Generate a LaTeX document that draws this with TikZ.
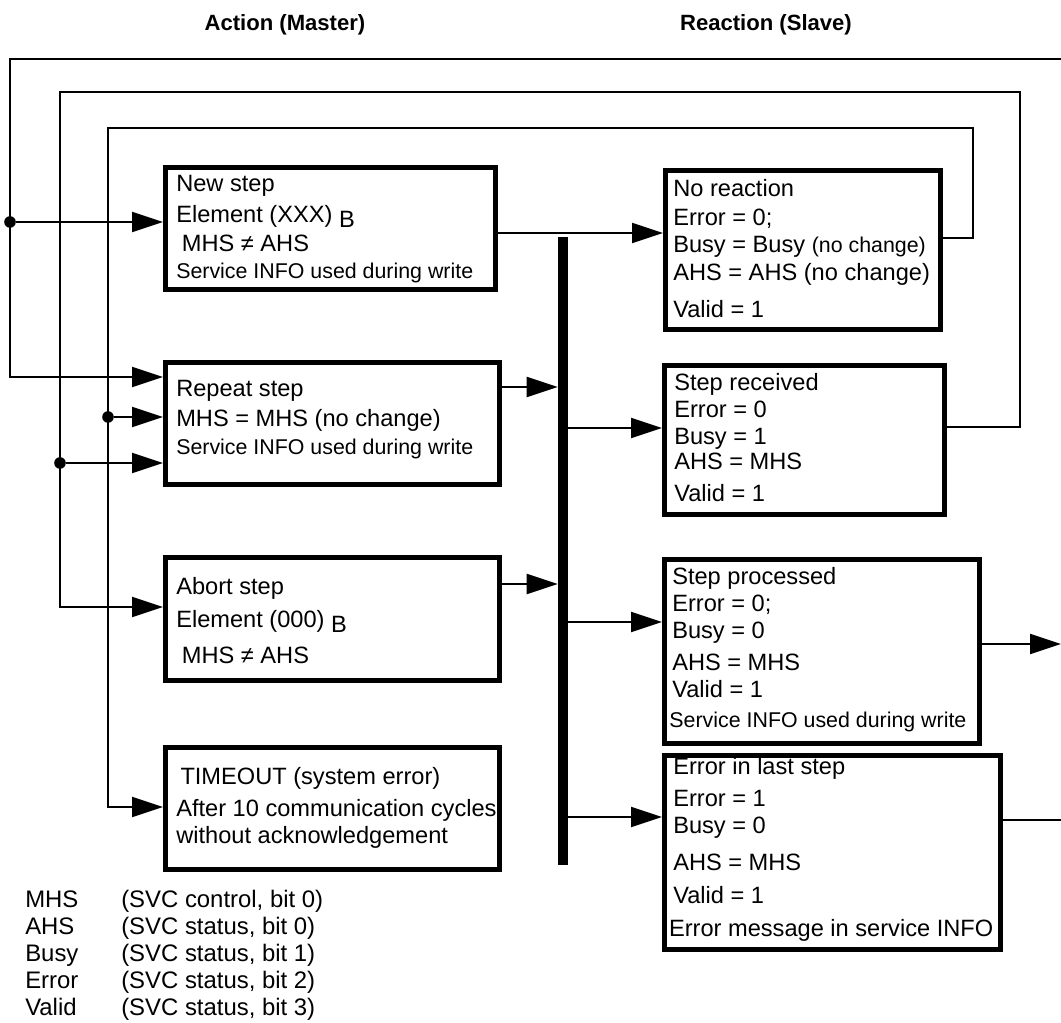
\documentclass[tikz,border=0pt]{standalone}
\usepackage{fontspec}
\setmainfont{Liberation Sans}
\usetikzlibrary{arrows.meta}
\newcommand{\infosize}{\fontsize{15.2}{19}\selectfont}

\begin{document}
\begin{tikzpicture}[
  font=\fontsize{16.8}{19}\selectfont,
  stepbox/.style={draw=black,line width=3.3pt,anchor=north west,inner sep=0pt},
  boxtext/.style={anchor=base west,inner sep=0pt},
  fb/.style={draw=black,line width=1.5pt},
  flow/.style={fb,-{Triangle[length=0.775cm,width=0.5cm]}},
  junction/.style={circle,fill=black,inner sep=0pt,minimum size=0.29cm},
  coltitle/.style={font=\fontsize{15.7}{18}\selectfont\bfseries,anchor=base}
]
\useasboundingbox (0,0) rectangle (26.525,25.575);

% Column headings.
\node[coltitle] (tmaster) at (7.125,24.8) {Action (Master)};
\node[coltitle] (tslave) at (19.15,24.8) {Reaction (Slave)};

% -------------------------------------------------------------------------
% Master side.
\node[stepbox,minimum width=8.25cm,minimum height=3.05cm] (newstep) at (4.075,21.45) {};
\node[boxtext] (newtext) at (4.4,20.775) {\begin{tabular}[t]{@{}l@{}}
  New step\\[3pt]
  Element (XXX) \raisebox{-3.5pt}{B}\\[1.5pt]
  \hspace{4pt}MHS ≠ AHS\\
  \infosize Service INFO used during write
\end{tabular}};

\node[stepbox,minimum width=8.35cm,minimum height=3.05cm] (repeatstep) at (4.075,16.575) {};
\node[boxtext] (repeattext) at (4.4,15.65) {\begin{tabular}[t]{@{}l@{}}
  Repeat step\\[2.3pt]
  MHS = MHS (no change)\\[0.8pt]
  \infosize Service INFO used during write
\end{tabular}};

\node[stepbox,minimum width=8.35cm,minimum height=3.075cm] (abortstep) at (4.075,11.7) {};
\node[boxtext] (aborttext) at (4.4,10.7) {\begin{tabular}[t]{@{}l@{}}
  Abort step\\[4.4pt]
  Element (000) \raisebox{-3pt}{B}\\[6.5pt]
  \hspace{4pt}MHS ≠ AHS
\end{tabular}};

\node[stepbox,minimum width=8.35cm,minimum height=3.05cm] (timeout) at (4.075,6.95) {};
\node[boxtext] (timetext) at (4.4,5.95) {\begin{tabular}[t]{@{}l@{}}
  \hspace{3pt}TIMEOUT (system error)\\[3.7pt]
  After 10 communication cycles\\
  without acknowledgement
\end{tabular}};

% -------------------------------------------------------------------------
% Slave side.
\node[stepbox,minimum width=6.875cm,minimum height=3.975cm] (noreact) at (16.575,21.375) {};
\node[boxtext] (noretext) at (16.825,20.65) {\begin{tabular}[t]{@{}l@{}}
  No reaction\\[1.5pt]
  Error = 0;\\
  Busy = Busy {\infosize (no change)}\\[0.8pt]
  AHS = AHS (no change)\\[7.2pt]
  Valid = 1
\end{tabular}};

\node[stepbox,minimum width=7cm,minimum height=3.725cm] (steprecv) at (16.55,16.5) {};
\node[boxtext] (recvtext) at (16.85,15.8) {\begin{tabular}[t]{@{}l@{}}
  Step received\\
  Error = 0\\
  Busy = 1\\[-1.3pt]
  AHS = MHS\\[3.7pt]
  Valid = 1
\end{tabular}};

\node[stepbox,minimum width=7.875cm,minimum height=4.6cm] (stepproc) at (16.55,11.65) {};
\node[boxtext] (proctext) at (16.8,10.95) {\begin{tabular}[t]{@{}l@{}}
  Step processed\\
  Error = 0;\\
  Busy = 0\\[3.7pt]
  AHS = MHS\\
  Valid = 1\\[3pt]
  \hspace{-2pt}\infosize Service INFO used during write
\end{tabular}};

\node[stepbox,minimum width=8.4cm,minimum height=4.85cm] (errstep) at (16.55,6.75) {};
\node[boxtext] (errtext) at (16.825,6.2) {\begin{tabular}[t]{@{}l@{}}
  Error in last step\\[3.7pt]
  Error = 1\\
  Busy = 0\\[7.2pt]
  AHS = MHS\\[4.4pt]
  Valid = 1\\[4.4pt]
  \hspace{-3pt}Error message in service INFO
\end{tabular}};

% Bus bar between the columns.
\node[fill=black,inner sep=0pt,minimum width=0.25cm,minimum height=15.7cm] (bus) at (14.075,11.8) {};

\draw[flow] (newstep.east |- 0,19.75) -- (noreact.west |- 0,19.75);
\draw[flow] (repeatstep.east |- 0,15.9) -- (bus.west |- 0,15.9);
\draw[flow] (abortstep.east |- 0,10.975) -- (bus.west |- 0,10.975);
\draw[flow] (bus.west |- 0,14.875) -- (steprecv.west |- 0,14.875);
\draw[flow] (bus.west |- 0,10.025) -- (stepproc.west |- 0,10.025);
\draw[flow] (bus.west |- 0,5.15) -- (errstep.west |- 0,5.15);

% -------------------------------------------------------------------------
% Feedback loops.
\coordinate (edgetop) at (26.525,24.1);
\coordinate (edgeproc) at (26.525,9.475);
\coordinate (edgeerr) at (26.525,5.075);
\node[junction] (dota) at (0.25,20.025) {};
\node[junction] (dotb) at (1.5,14.0) {};
\node[junction] (dotc) at (2.7,15.15) {};

\draw[flow] (edgetop) -| (0.25,16.15) -- (repeatstep.west |- 0,16.15);
\draw[flow] (dota) -- (newstep.west |- dota);
\draw[flow] (steprecv.east |- 0,14.9) -| (25.5,23.275) -| (1.5,10.4)
  -- (abortstep.west |- 0,10.4);
\draw[flow] (dotb) -- (repeatstep.west |- dotb);
\draw[flow] (noreact.east |- 0,19.625) -| (24.325,22.375) -| (2.7,5.4)
  -- (timeout.west |- 0,5.4);
\draw[flow] (dotc) -- (repeatstep.west |- dotc);

\draw[flow] (stepproc.east |- edgeproc) -- (edgeproc);
\draw[fb] (errstep.east |- edgeerr) -- (edgeerr);

% Legend.
\node[boxtext,font=\fontsize{17}{19.1}\selectfont] (legend) at (0.625,2.875)
  {\begin{tabular}[t]{@{}p{2.4cm}@{}l@{}}
  MHS & (SVC control, bit 0)\\
  AHS & (SVC status, bit 0)\\
  Busy & (SVC status, bit 1)\\
  Error & (SVC status, bit 2)\\
  Valid & (SVC status, bit 3)
\end{tabular}};

\end{tikzpicture}
\end{document}
